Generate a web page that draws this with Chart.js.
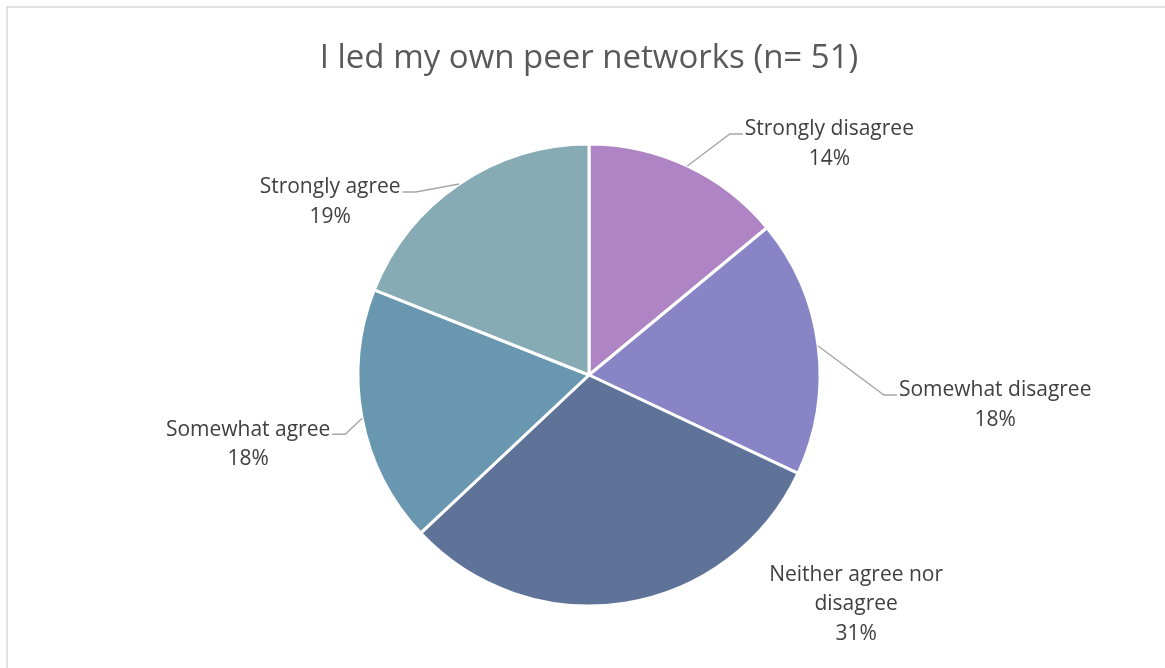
<!DOCTYPE html>
<html>
<head>
<meta charset="utf-8">
<script src="https://cdn.jsdelivr.net/npm/chart.js@4/dist/chart.umd.min.js"></script>
<style>
  html, body { margin: 0; padding: 0; background: #fff; }
  #wrap { position: relative; width: 1165px; height: 668px; }
</style>
</head>
<body>
<div id="wrap"><canvas id="pie"></canvas></div>
<script>
// survey answers, clockwise from 12 o'clock
const categories = [
  "Strongly disagree",
  "Somewhat disagree",
  "Neither agree nor disagree",
  "Somewhat agree",
  "Strongly agree"
];
const shares = [14, 18, 31, 18, 19];
const sliceColors = ["#ae84c5", "#8884c6", "#5f7398", "#6897af", "#86abb5"];

// label text split over lines
const labelLines = [
  ["Strongly disagree"],
  ["Somewhat disagree"],
  ["Neither agree nor", "disagree"],
  ["Somewhat agree"],
  ["Strongly agree"]
];
// where each label block sits relative to its slice's outer midpoint
const labelOffsets = [
  { dx: 142, dy: -24, leader: true },
  { dx: 177, dy: 57, leader: true },
  { dx: 231, dy: -1, leader: false },
  { dx: -114, dy: 24, leader: true },
  { dx: -129, dy: 16, leader: true }
];

const LABEL_FONT = "21px 'Open Sans'";
const LINE_H = 29.5;
const TEXT_NUDGE = 2; // Open Sans sits a little high with "middle" baseline

const frame = {
  id: "frame",
  beforeDraw(chart) {
    const ctx = chart.ctx;
    ctx.save();
    ctx.strokeStyle = "#d9d9d9";
    ctx.lineWidth = 1.5;
    ctx.strokeRect(7, 7, chart.width + 20, chart.height + 20);
    ctx.restore();
  }
};

const sliceLabels = {
  id: "sliceLabels",
  afterDatasetsDraw(chart) {
    const ctx = chart.ctx;
    const arcs = chart.getDatasetMeta(0).data;
    ctx.save();
    ctx.font = LABEL_FONT;
    ctx.fillStyle = "#404040";
    ctx.textAlign = "center";
    ctx.textBaseline = "middle";
    arcs.forEach((arc, i) => {
      const { x, y, startAngle, endAngle, outerRadius } = arc.getProps(
        ["x", "y", "startAngle", "endAngle", "outerRadius"], true);
      const mid = (startAngle + endAngle) / 2;
      const ex = x + Math.cos(mid) * outerRadius;
      const ey = y + Math.sin(mid) * outerRadius;
      const off = labelOffsets[i];
      const cx = ex + off.dx;
      const cy = ey + off.dy;
      const lines = labelLines[i].concat([shares[i] + "%"]);
      const top = cy - (lines.length - 1) * LINE_H / 2 + TEXT_NUDGE;
      lines.forEach((t, k) => ctx.fillText(t, cx, top + k * LINE_H));

      if (off.leader) {
        const w = ctx.measureText(lines[0]).width;
        const side = off.dx > 0 ? -1 : 1;
        const ly = cy - 8;
        const endX = cx + side * (w / 2 + 2);
        const elbowX = endX + side * 13;
        ctx.save();
        ctx.strokeStyle = "#a6a6a6";
        ctx.lineWidth = 1.4;
        ctx.beginPath();
        ctx.moveTo(ex, ey);
        ctx.lineTo(elbowX, ly);
        ctx.lineTo(endX, ly);
        ctx.stroke();
        ctx.restore();
      }
    });
    ctx.restore();
  }
};

new Chart(document.getElementById("pie"), {
  type: "pie",
  data: {
    labels: categories,
    datasets: [{
      data: shares,
      backgroundColor: sliceColors,
      borderColor: "#ffffff",
      borderWidth: 3,
      radius: 231
    }]
  },
  options: {
    responsive: true,
    maintainAspectRatio: false,
    animation: false,
    layout: { padding: { left: 13, right: 0, top: 0, bottom: 10 } },
    plugins: {
      legend: { display: false },
      tooltip: { enabled: false },
      title: {
        display: true,
        text: "I led my own peer networks (n= 51)",
        color: "#595959",
        font: { family: "'Open Sans'", size: 33, weight: "normal", lineHeight: 1.2 },
        padding: { top: 39, bottom: 13.4 }
      }
    }
  },
  plugins: [frame, sliceLabels]
});
</script>
</body>
</html>
